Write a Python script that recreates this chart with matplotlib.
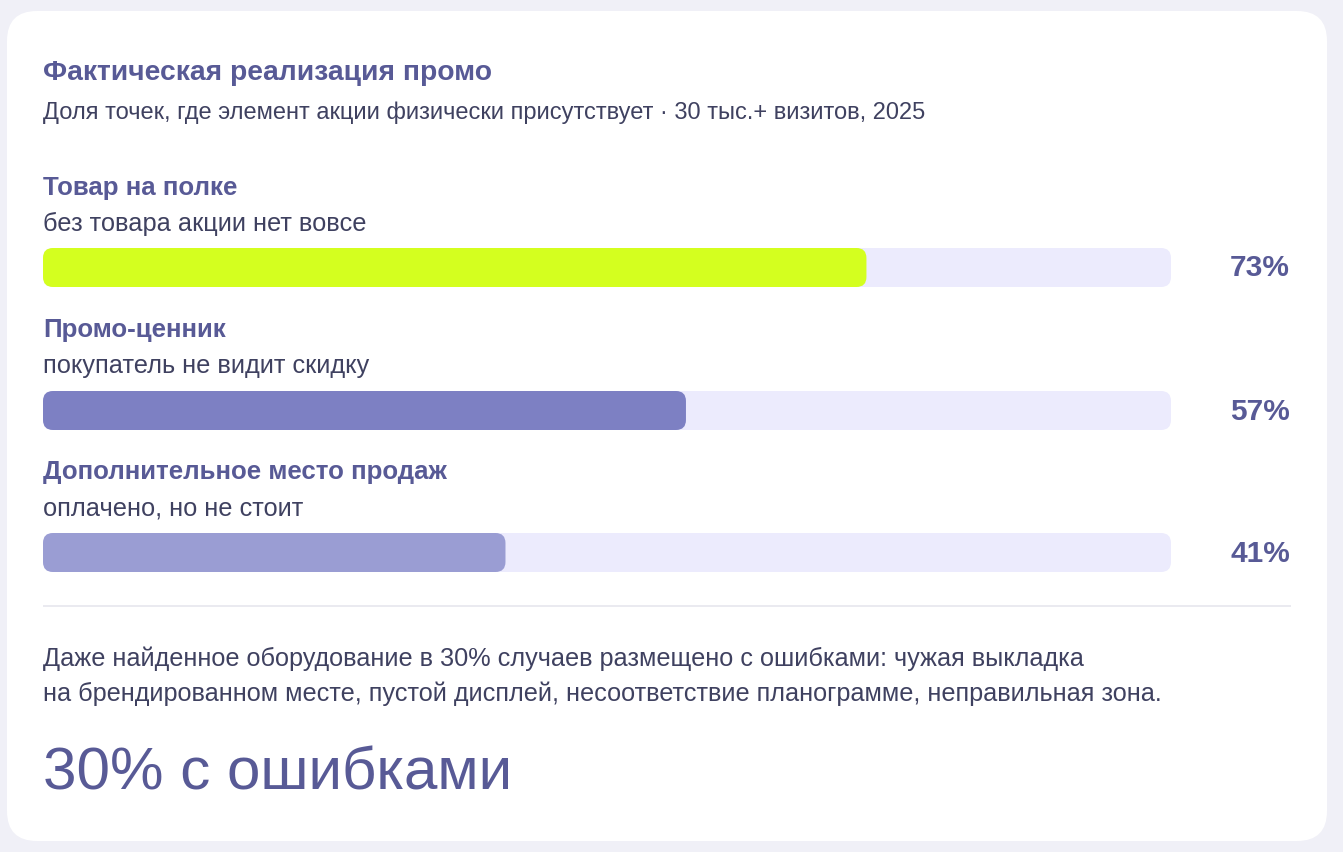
import matplotlib
matplotlib.use("Agg")
import matplotlib.pyplot as plt
from matplotlib.patches import FancyBboxPatch

plt.rcParams['font.family'] = ['Liberation Sans', 'DejaVu Sans']

# ---- data ----
title = "Фактическая реализация промо"
subtitle = "Доля точек, где элемент акции физически присутствует · 30 тыс.+ визитов, 2025"
categories = ["Товар на полке", "Промо-ценник", "Дополнительное место продаж"]
descriptions = ["без товара акции нет вовсе", "покупатель не видит скидку", "оплачено, но не стоит"]
values = [73, 57, 41]
note_lines = ["Даже найденное оборудование в 30% случаев размещено с ошибками: чужая выкладка",
              "на брендированном месте, пустой дисплей, несоответствие планограмме, неправильная зона."]
headline = "30% с ошибками"

# ---- style ----
W, H = 1343, 852
BG = "#F0F0F7"
CARD = "#FFFFFF"
TITLE_C = "#585A96"
TEXT_C = "#3F4160"
TRACK = "#ECEBFD"
BAR_COLORS = ["#D4FF1F", "#7D80C3", "#9A9DD3"]

fig = plt.figure(figsize=(W / 100, H / 100), dpi=100)
fig.patch.set_facecolor(BG)

ax = fig.add_axes([0, 0, 1, 1])
ax.set_xlim(0, W)
ax.set_ylim(H, 0)
ax.axis("off")

# card
card = FancyBboxPatch((7, 11), 1320, 830, boxstyle="round,pad=0,rounding_size=30",
                      fc=CARD, ec="none")
ax.add_patch(card)

x0 = 43
ax.text(x0, 72.5, title, fontsize=20.3, fontweight="bold", color=TITLE_C, va="center", ha="left")
ax.text(x0, 112.5, subtitle, fontsize=17, color=TEXT_C, va="center", ha="left")

# bars axes: x in percent, y in pixel units
track_l, track_r = 43, 1171
bar_h = 39
bar_tops = [248, 391, 533]
ax_top, ax_bot = 240, 580
bax = fig.add_axes([track_l / W, 1 - ax_bot / H, (track_r - track_l) / W, (ax_bot - ax_top) / H])
bax.set_xlim(0, 100)
bax.set_ylim(ax_bot, ax_top)
bax.axis("off")
bax.patch.set_alpha(0)

px_per_x = (track_r - track_l) / 100.0
r_px = 10
rx = r_px / px_per_x
for i, (cat, desc, v) in enumerate(zip(categories, descriptions, values)):
    top = bar_tops[i]
    bax.add_patch(FancyBboxPatch((0, top), 100, bar_h,
                                 boxstyle=f"round,pad=0,rounding_size={rx}",
                                 mutation_aspect=r_px / rx, fc=TRACK, ec="none"))
    bax.add_patch(FancyBboxPatch((0, top), v, bar_h,
                                 boxstyle=f"round,pad=0,rounding_size={rx}",
                                 mutation_aspect=r_px / rx, fc=BAR_COLORS[i], ec="none"))
    ax.text(x0, top - 60.5, cat, fontsize=18.6, fontweight="bold", color=TITLE_C, va="center", ha="left")
    ax.text(x0, top - 24.5, desc, fontsize=18.3, color=TEXT_C, va="center", ha="left")
    ax.text(1290, top + bar_h / 2 + 1, f"{v}%", fontsize=21.5, fontweight="bold", color=TITLE_C,
            va="center", ha="right")

# divider
ax.plot([43, 1291], [605.5, 605.5], color="#E6E6EE", lw=1.2, solid_capstyle="butt")

ax.text(x0, 659, note_lines[0], fontsize=18.2, color=TEXT_C, va="center", ha="left")
ax.text(x0, 694, note_lines[1], fontsize=18.2, color=TEXT_C, va="center", ha="left")

ax.text(x0, 774, headline, fontsize=43.3, color=TITLE_C, va="center", ha="left")

fig.savefig("out.png", dpi=100, facecolor=BG)
